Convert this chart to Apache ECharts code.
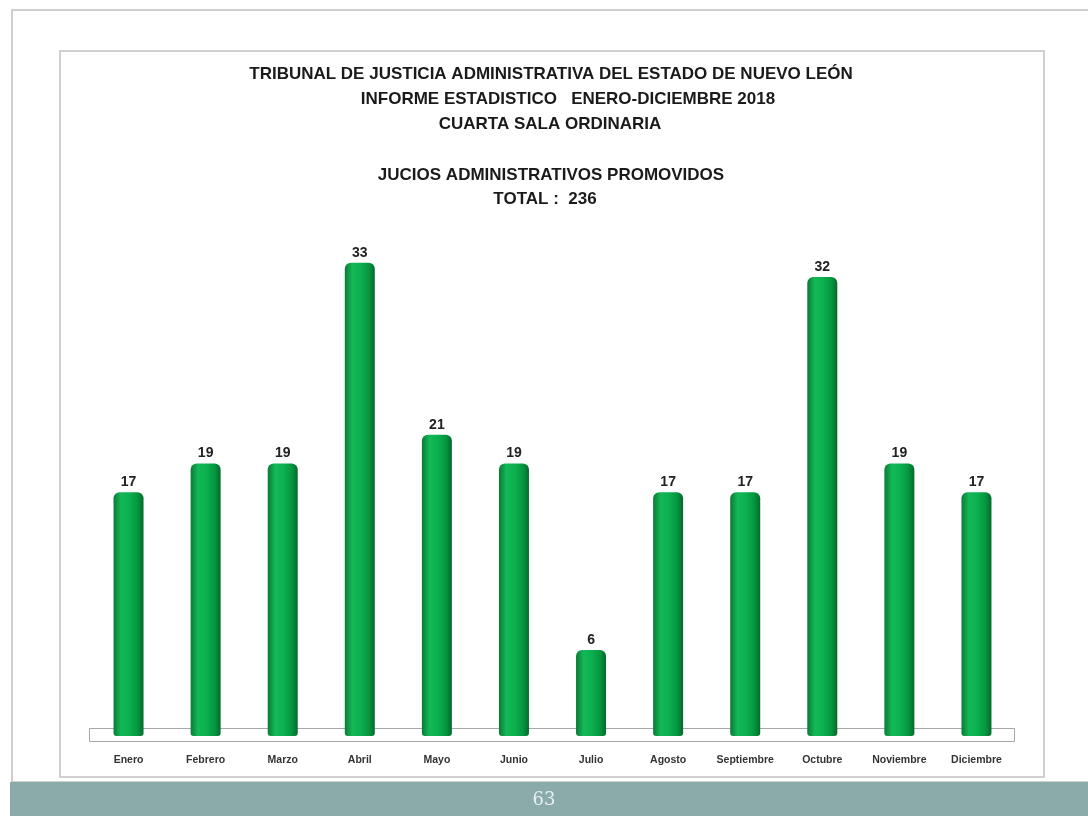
<!DOCTYPE html>
<html>
<head>
<meta charset="utf-8">
<script src="https://cdn.jsdelivr.net/npm/echarts@6/dist/echarts.min.js"></script>
<style>
html,body{margin:0;padding:0;background:#fff;}
#chart{width:1088px;height:816px;}
</style>
</head>
<body>
<div id="chart"></div>
<script>
const categories = ['Enero','Febrero','Marzo','Abril','Mayo','Junio','Julio','Agosto','Septiembre','Octubre','Noviembre','Diciembre'];
const values = [17,19,19,33,21,19,6,17,17,32,19,17];
const titleLines = [
  'TRIBUNAL DE JUSTICIA ADMINISTRATIVA DEL ESTADO DE NUEVO LEÓN',
  'INFORME ESTADISTICO   ENERO-DICIEMBRE 2018',
  'CUARTA SALA ORDINARIA',
  'JUCIOS ADMINISTRATIVOS PROMOVIDOS',
  'TOTAL :  236'
];
const pageNumber = '63';

const font = '"Liberation Sans Narrow", "Liberation Sans", sans-serif';
const titleY = [74, 99, 124, 175, 199];
const titleX = [551, 568, 550, 551, 545];
const titleGraphics = titleLines.map((t, i) => ({
  type: 'text', z: 5, x: titleX[i], y: titleY[i],
  style: {text: t, fill: '#1a1a1a', font: 'bold 17px ' + font, textAlign: 'center', textVerticalAlign: 'middle'}
}));

const chart = echarts.init(document.getElementById('chart'), null, {renderer:'canvas'});
chart.setOption({
  animation: false,
  backgroundColor: '#ffffff',
  graphic: [
    {type:'rect', z:-10, shape:{x:12, y:10, width:1090, height:772}, style:{fill:'#fff', stroke:'#cfcfcf', lineWidth:2}},
    {type:'rect', z:-9, shape:{x:60, y:51, width:984, height:726}, style:{fill:'#fff', stroke:'#d0d0d0', lineWidth:2}},
    {type:'rect', z:-8, shape:{x:89.5, y:728.5, width:925, height:13}, style:{fill:'#fff', stroke:'#a8a8a8', lineWidth:1}},
    {type:'rect', z:-7, shape:{x:10, y:782, width:1078, height:34}, style:{fill:'#8aabaa'}},
    {type:'text', z:5, x:544, y:800, style:{text:pageNumber, fill:'#e8f0ef', font:'18px "DejaVu Serif", "Liberation Serif", serif', textAlign:'center', textVerticalAlign:'middle'}}
  ].concat(titleGraphics),
  grid: {left: 90, right: 1088-1015, top: 234, bottom: 80, containLabel: false},
  xAxis: {
    type: 'category',
    data: categories,
    axisLine: {show: false},
    axisTick: {show: false},
    axisLabel: {fontFamily: font, fontWeight: 'bold', fontSize: 10.5, color: '#333', margin: 19}
  },
  yAxis: {
    type: 'value',
    min: 0, max: 35,
    show: false,
    splitLine: {show: false}
  },
  series: [{
    type: 'bar',
    data: values,
    barWidth: 30,
    itemStyle: {
      borderRadius: [6,6,3,3],
      color: new echarts.graphic.LinearGradient(0,0,1,0,[
        {offset:0, color:'#0a7a36'},
        {offset:0.25, color:'#14b856'},
        {offset:0.5, color:'#0cb250'},
        {offset:0.8, color:'#069640'},
        {offset:1, color:'#05692c'}
      ])
    },
    label: {
      show: true,
      position: 'top',
      distance: 3,
      fontFamily: font,
      fontWeight: 'bold',
      fontSize: 14,
      color: '#222'
    }
  }]
});
</script>
</body>
</html>
